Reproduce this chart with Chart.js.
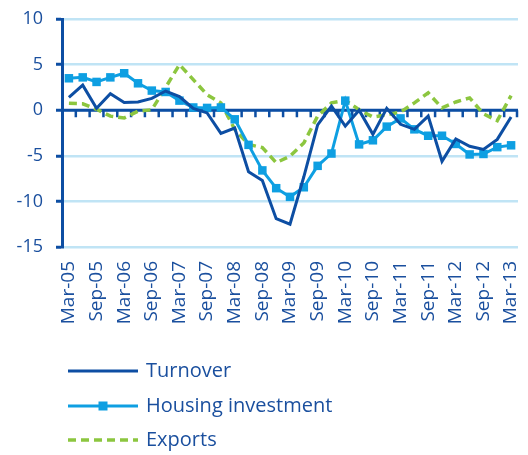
<!DOCTYPE html>
<html>
<head>
<meta charset="utf-8">
<script src="https://cdn.jsdelivr.net/npm/chart.js@4/dist/chart.umd.min.js"></script>
<style>
  html, body { margin: 0; padding: 0; background: #ffffff; }
  #wrap { width: 528px; height: 455px; position: relative; }
</style>
</head>
<body>
<div id="wrap"><canvas id="c" width="528" height="455"></canvas></div>
<script>
// Quarterly categories, Mar-05 .. Mar-13
const categories = [
  'Mar-05','Jun-05','Sep-05','Dec-05','Mar-06','Jun-06','Sep-06','Dec-06',
  'Mar-07','Jun-07','Sep-07','Dec-07','Mar-08','Jun-08','Sep-08','Dec-08',
  'Mar-09','Jun-09','Sep-09','Dec-09','Mar-10','Jun-10','Sep-10','Dec-10',
  'Mar-11','Jun-11','Sep-11','Dec-11','Mar-12','Jun-12','Sep-12','Dec-12',
  'Mar-13'
];
const turnover = [
  1.4, 2.75, 0.2, 1.8, 0.85, 0.9, 1.3, 2.1,
  1.5, 0.2, -0.3, -2.55, -1.95, -6.75, -7.7, -11.9,
  -12.5, -7.3, -1.6, 0.45, -1.75, 0.0, -2.65, 0.2,
  -1.55, -2.1, -0.65, -5.6, -3.15, -3.95, -4.3, -3.2,
  -0.75
];
const housingInvestment = [
  3.5, 3.6, 3.1, 3.6, 4.05, 2.95, 2.15, 2.0,
  1.05, 0.3, 0.25, 0.3, -1.0, -3.8, -6.6, -8.55,
  -9.5, -8.45, -6.1, -4.75, 1.05, -3.75, -3.3, -1.8,
  -0.9, -2.1, -2.8, -2.8, -3.7, -4.85, -4.8, -4.05,
  -3.85
];
const exportsSeries = [
  0.75, 0.7, 0.1, -0.65, -0.85, -0.1, 0.05, 2.5,
  5.0, 3.35, 1.7, 0.8, -2.1, -3.75, -4.1, -5.75,
  -5.05, -3.6, -0.65, 0.8, 1.1, 0.05, -0.75, -0.5,
  -0.2, 0.8, 1.9, 0.25, 0.9, 1.35, -0.4, -1.15,
  1.6
];
const yTicks = [10, 5, 0, -5, -10, -15];

const TEXT = '#1a4f9e';
const DARK = '#0d4ea3';
const LIGHT = '#0e9fe2';
const GREEN = '#8cc63f';
const GRID = '#c0e4f5';
const FONT = '"Open Sans", "DejaVu Sans", sans-serif';

const zeroAxisPlugin = {
  id: 'zeroAxis',
  beforeDatasetsDraw(chart) {
    const { ctx, chartArea, scales } = chart;
    const x = scales.x, y = scales.y;
    const y0 = y.getPixelForValue(0);
    const half = (x.getPixelForValue(1) - x.getPixelForValue(0)) / 2;
    ctx.save();
    ctx.strokeStyle = DARK;
    ctx.lineWidth = 3;
    ctx.beginPath();
    ctx.moveTo(chartArea.left, y0);
    ctx.lineTo(chartArea.right, y0);
    ctx.stroke();
    ctx.lineWidth = 2.5;
    ctx.beginPath();
    for (let i = 0; i < categories.length; i++) {
      const tx = Math.min(x.getPixelForValue(i) + half, chartArea.right - 1);
      ctx.moveTo(tx, y0);
      ctx.lineTo(tx, y0 + 7);
    }
    ctx.stroke();
    ctx.restore();
  }
};

const legendPlugin = {
  id: 'lineLegend',
  afterDraw(chart) {
    const { ctx } = chart;
    const x0 = 68, len = 70, textX = 146;
    const rows = [371, 406, 440];
    ctx.save();
    chart.data.datasets.forEach((ds, i) => {
      const yy = rows[i];
      ctx.strokeStyle = ds.borderColor;
      ctx.lineWidth = ds.borderWidth;
      ctx.setLineDash(ds.borderDash || []);
      ctx.beginPath();
      ctx.moveTo(x0, yy);
      ctx.lineTo(x0 + len, yy);
      ctx.stroke();
      ctx.setLineDash([]);
      if (ds.pointRadius > 0) {
        ctx.fillStyle = ds.pointBackgroundColor;
        ctx.fillRect(x0 + len / 2 - 4.5, yy - 4.5, 9, 9);
      }
      ctx.fillStyle = TEXT;
      ctx.font = '20px ' + FONT;
      ctx.textBaseline = 'middle';
      ctx.textAlign = 'left';
      ctx.fillText(ds.label, textX, yy);
    });
    ctx.restore();
  }
};

new Chart(document.getElementById('c'), {
  type: 'line',
  data: {
    labels: categories,
    datasets: [
      {
        label: 'Turnover',
        data: turnover,
        borderColor: DARK,
        backgroundColor: DARK,
        borderWidth: 3,
        pointRadius: 0,
        tension: 0
      },
      {
        label: 'Housing investment',
        data: housingInvestment,
        borderColor: LIGHT,
        backgroundColor: LIGHT,
        borderWidth: 3,
        pointStyle: 'rect',
        pointRadius: 6,
        pointBorderWidth: 0,
        pointBackgroundColor: LIGHT,
        pointBorderColor: LIGHT,
        tension: 0
      },
      {
        label: 'Exports',
        data: exportsSeries,
        borderColor: GREEN,
        backgroundColor: GREEN,
        borderWidth: 3.5,
        borderDash: [8, 5],
        pointRadius: 0,
        tension: 0
      }
    ]
  },
  options: {
    responsive: false,
    animation: false,
    events: [],
    layout: { padding: { top: 19, right: 10, bottom: 118, left: 0 } },
    plugins: {
      legend: { display: false },
      tooltip: { enabled: false },
      title: { display: false }
    },
    scales: {
      x: {
        type: 'category',
        offset: true,
        grid: { display: false, drawTicks: false },
        border: { display: false },
        afterFit(scale) { scale.height = 90; scale.paddingLeft = 0; scale.paddingRight = 0; },
        ticks: {
          autoSkip: false,
          minRotation: 90,
          maxRotation: 90,
          padding: 14,
          color: TEXT,
          font: { family: FONT, size: 19 },
          callback(value, index) {
            const lab = categories[index];
            return (lab.startsWith('Mar') || lab.startsWith('Sep')) ? lab : '';
          }
        }
      },
      y: {
        min: -15,
        max: 10,
        afterFit(scale) { scale.width = 62; scale.paddingTop = 0; scale.paddingBottom = 0; },
        afterBuildTicks(scale) { scale.ticks = yTicks.map(v => ({ value: v })); },
        grid: {
          color: GRID,
          lineWidth: 2.5,
          drawTicks: true,
          tickLength: 6,
          tickColor: DARK,
          tickWidth: 3
        },
        border: { display: true, color: DARK, width: 3 },
        ticks: {
          padding: 13,
          color: TEXT,
          font: { family: FONT, size: 18 }
        }
      }
    }
  },
  plugins: [zeroAxisPlugin, legendPlugin]
});
</script>
</body>
</html>
